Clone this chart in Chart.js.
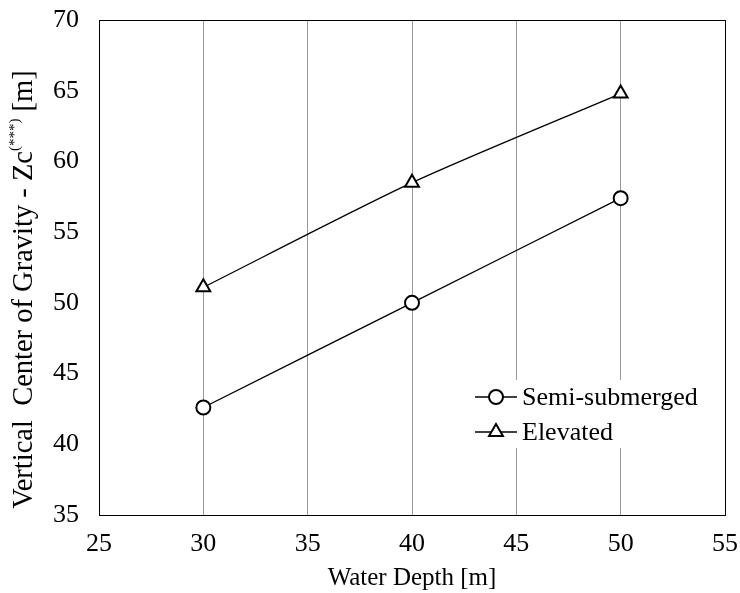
<!DOCTYPE html>
<html>
<head>
<meta charset="utf-8">
<title>Vertical Center of Gravity vs Water Depth</title>
<script src="https://cdn.jsdelivr.net/npm/chart.js@4/dist/chart.umd.min.js"></script>
<style>
  body { margin: 0; background: #fff; }
  #wrap { width: 740px; height: 593px; }
</style>
</head>
<body>
<div id="wrap"><canvas id="chart" width="740" height="593"></canvas></div>
<script>
// datos
const waterDepth = [30, 40, 50];
const semiSubmerged = [42.6, 50.0, 57.4];
const elevated = [51.1, 58.5, 64.8];
const xTicks = [25, 30, 35, 40, 45, 50, 55];
const yTicks = [35, 40, 45, 50, 55, 60, 65, 70];

const FONT = "'Liberation Serif', 'Times New Roman', serif";

function toPoints(xs, ys) {
  return xs.map((x, i) => ({ x: x, y: ys[i] }));
}

// marco negro alrededor del area de dibujo
const frame = {
  id: 'frame',
  afterDatasetsDraw(chart) {
    const a = chart.chartArea;
    const ctx = chart.ctx;
    ctx.save();
    ctx.strokeStyle = '#000';
    ctx.lineWidth = 1;
    ctx.strokeRect(Math.round(a.left) + 0.5, Math.round(a.top) + 0.5,
      Math.round(a.right - a.left), Math.round(a.bottom - a.top));
    ctx.restore();
  }
};

// leyenda dentro del grafico
const innerLegend = {
  id: 'innerLegend',
  afterDatasetsDraw(chart) {
    const ctx = chart.ctx;
    ctx.save();
    ctx.fillStyle = '#fff';
    ctx.fillRect(470, 380, 238, 68);
    ctx.font = '26px ' + FONT;
    ctx.textBaseline = 'middle';
    chart.data.datasets.forEach((ds, i) => {
      const y = 397 + i * 35;
      ctx.strokeStyle = '#000';
      ctx.lineWidth = 1.3;
      ctx.beginPath();
      ctx.moveTo(475, y);
      ctx.lineTo(517, y);
      ctx.stroke();
      ctx.fillStyle = '#fff';
      ctx.lineWidth = 2;
      Chart.helpers.drawPoint(ctx, {
        pointStyle: ds.pointStyle, radius: ds.pointRadius, rotation: 0, borderWidth: 2
      }, 496, y);
      ctx.fillStyle = '#000';
      ctx.fillText(ds.label, 522, y + 1);
    });
    ctx.restore();
  }
};

// titulo del eje y con superindice
const yTitle = {
  id: 'yTitle',
  afterDraw(chart) {
    const ctx = chart.ctx;
    const a = chart.chartArea;
    const parts = [
      { t: 'Vertical  Center of Gravity - Zc', size: 28.5, dy: 0 },
      { t: '(***)', size: 15, dy: -10 },
      { t: ' [m]', size: 28.5, dy: 0 }
    ];
    ctx.save();
    let total = 0;
    parts.forEach(p => {
      ctx.font = p.size + 'px ' + FONT;
      p.w = ctx.measureText(p.t).width;
      total += p.w;
    });
    ctx.translate(25, (a.top + a.bottom) / 2 + 22);
    ctx.rotate(-Math.PI / 2);
    ctx.fillStyle = '#000';
    ctx.textBaseline = 'middle';
    let x = -total / 2;
    parts.forEach(p => {
      ctx.font = p.size + 'px ' + FONT;
      ctx.fillText(p.t, x, p.dy);
      x += p.w;
    });
    ctx.restore();
  }
};

new Chart(document.getElementById('chart'), {
  type: 'line',
  data: {
    datasets: [
      {
        label: 'Semi-submerged',
        data: toPoints(waterDepth, semiSubmerged),
        borderColor: '#000',
        borderWidth: 1.3,
        backgroundColor: '#fff',
        pointStyle: 'circle',
        pointRadius: 7,
        pointBorderWidth: 2,
        pointBackgroundColor: '#fff',
        pointBorderColor: '#000',
        tension: 0.25
      },
      {
        label: 'Elevated',
        data: toPoints(waterDepth, elevated),
        borderColor: '#000',
        borderWidth: 1.3,
        backgroundColor: '#fff',
        pointStyle: 'triangle',
        pointRadius: 8,
        pointBorderWidth: 2,
        pointBackgroundColor: '#fff',
        pointBorderColor: '#000',
        tension: 0.25
      }
    ]
  },
  options: {
    responsive: false,
    animation: false,
    layout: { padding: { top: 20, right: 15, left: 0, bottom: 0 } },
    plugins: {
      legend: { display: false },
      tooltip: { enabled: false }
    },
    scales: {
      x: {
        type: 'linear',
        min: 25,
        max: 55,
        afterBuildTicks: (scale) => { scale.ticks = xTicks.map(v => ({ value: v })); },
        afterFit: (scale) => {
          scale.height = 78;
          scale.paddingLeft = 0;
          scale.paddingRight = 0;
        },
        ticks: { color: '#000', padding: 14, font: { family: FONT, size: 26 } },
        grid: {
          drawTicks: false,
          color: (c) => (c.tick && (c.tick.value === 25 || c.tick.value === 55)) ? 'rgba(0,0,0,0)' : '#999',
          lineWidth: 1
        },
        border: { display: false },
        title: {
          display: true,
          text: 'Water Depth [m]',
          color: '#000',
          font: { family: FONT, size: 25 },
          padding: { top: 0, bottom: 0 }
        }
      },
      y: {
        min: 35,
        max: 70,
        afterBuildTicks: (scale) => { scale.ticks = yTicks.map(v => ({ value: v })); },
        afterFit: (scale) => {
          scale.width = 99;
          scale.paddingTop = 0;
          scale.paddingBottom = 0;
        },
        ticks: { color: '#000', padding: 20, font: { family: FONT, size: 26 } },
        grid: { display: false, drawTicks: false },
        border: { display: false }
      }
    }
  },
  plugins: [frame, innerLegend, yTitle]
});
</script>
</body>
</html>
